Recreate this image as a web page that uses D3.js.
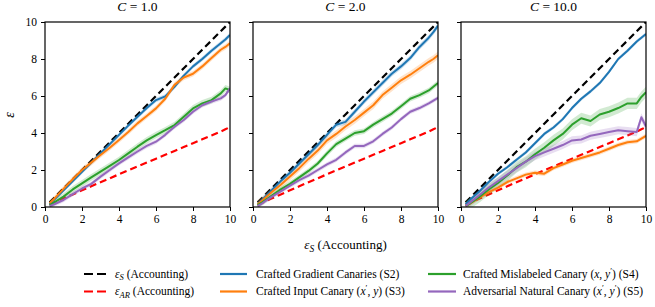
<!DOCTYPE html>
<html>
<head>
<meta charset="utf-8">
<script src="https://cdn.jsdelivr.net/npm/d3@7"></script>
<style>
  html, body { margin: 0; padding: 0; background: #fff; }
  svg text { font-family: "Liberation Serif", "Times New Roman", serif; fill: #000; }
</style>
</head>
<body>
<svg id="chart" width="655" height="307"></svg>
<script>
// ---------------- DATA ----------------
const panelTitles = ["1.0", "2.0", "10.0"];
const eps = [0.25, 0.5, 1, 1.5, 2, 2.5, 3, 3.5, 4, 4.5, 5, 5.5, 6, 6.5, 7, 7.5, 8, 8.5, 9, 9.5, 9.75, 10];
const epsS = [0.25, 0.5, 1, 1.5, 2, 2.5, 3, 3.5, 4, 4.5, 5, 5.5, 6, 6.5, 7, 7.5, 8, 8.5, 9, 9.5, 9.75, 10];
const epsAR = [0.12, 0.23, 0.46, 0.68, 0.9, 1.12, 1.34, 1.55, 1.77, 1.98, 2.19, 2.4, 2.61, 2.82, 3.03, 3.24, 3.45, 3.66, 3.87, 4.08, 4.2, 4.32];

// C = 1.0
const gradC1    = [0.15, 0.4, 0.9, 1.4, 1.9, 2.4, 2.9, 3.4, 3.9, 4.4, 4.88, 5.35, 5.78, 5.98, 6.5, 7.1, 7.6, 8.0, 8.45, 8.85, 9.05, 9.3];
const inputC1   = [0.2, 0.45, 0.98, 1.5, 2.0, 2.4, 2.81, 3.2, 3.62, 4.05, 4.52, 4.92, 5.33, 5.85, 6.6, 7.0, 7.2, 7.6, 8.05, 8.5, 8.65, 8.85];
const mislabC1  = [0.1, 0.25, 0.56, 0.95, 1.28, 1.6, 1.91, 2.22, 2.54, 2.9, 3.26, 3.6, 3.89, 4.15, 4.43, 4.88, 5.33, 5.6, 5.78, 6.14, 6.41, 6.32];
const naturalC1 = [0.05, 0.15, 0.38, 0.7, 1.0, 1.25, 1.64, 2.0, 2.36, 2.68, 3.0, 3.3, 3.53, 3.9, 4.34, 4.7, 5.15, 5.5, 5.7, 5.87, 6.05, 6.41];
// C = 2.0
const gradC2    = [0.15, 0.4, 0.9, 1.4, 1.85, 2.35, 2.85, 3.35, 3.9, 4.45, 4.6, 5.15, 5.7, 6.2, 6.7, 7.2, 7.6, 8.05, 8.65, 9.15, 9.45, 9.8];
const inputC2   = [0.15, 0.35, 0.8, 1.2, 1.65, 2.1, 2.6, 3.05, 3.6, 3.95, 4.35, 4.7, 5.1, 5.5, 6.05, 6.45, 6.85, 7.15, 7.5, 7.85, 8.0, 8.2];
const mislabC2  = [0.1, 0.25, 0.6, 0.95, 1.25, 1.6, 1.95, 2.35, 2.9, 3.4, 3.7, 4.0, 4.1, 4.45, 4.75, 5.05, 5.45, 5.85, 6.05, 6.3, 6.5, 6.7];
const naturalC2 = [0.05, 0.2, 0.55, 0.85, 1.15, 1.45, 1.7, 2.0, 2.3, 2.55, 2.95, 3.3, 3.3, 3.55, 3.95, 4.3, 4.75, 5.15, 5.35, 5.6, 5.75, 5.9];
// C = 10.0
const gradC3    = [0.15, 0.4, 0.85, 1.35, 1.8, 2.15, 2.55, 2.95, 3.45, 3.95, 4.3, 4.75, 5.35, 5.85, 6.25, 6.7, 7.3, 8.0, 8.45, 8.95, 9.15, 9.35];
const inputC3   = [0.05, 0.2, 0.5, 0.8, 1.05, 1.35, 1.55, 1.75, 1.85, 1.8, 2.1, 2.3, 2.5, 2.65, 2.8, 2.95, 3.15, 3.35, 3.5, 3.55, 3.7, 3.85];
const mislabC3  = [0.05, 0.2, 0.55, 0.95, 1.3, 1.7, 2.15, 2.45, 2.85, 3.2, 3.6, 3.95, 4.45, 4.8, 4.65, 5.0, 5.15, 5.35, 5.6, 5.6, 5.95, 6.2];
const naturalC3 = [0.05, 0.25, 0.65, 1.05, 1.4, 1.75, 2.1, 2.45, 2.75, 2.95, 3.15, 3.35, 3.6, 3.65, 3.85, 3.95, 4.05, 4.15, 4.1, 4.05, 4.85, 4.35];

// half-width of the shaded confidence band per series (grad, input, mislabeled, natural)
const bandC1 = [0.12, 0.15, 0.18, 0.12];
const bandC2 = [0.15, 0.2, 0.15, 0.12];
const bandC3 = [0.1, 0.12, 0.3, 0.22];

const xTicks = [0, 2, 4, 6, 8, 10];
const yTicks = [0, 2, 4, 6, 8, 10];

const panels = [
  { title: panelTitles[0], series: [gradC1, inputC1, mislabC1, naturalC1], band: bandC1 },
  { title: panelTitles[1], series: [gradC2, inputC2, mislabC2, naturalC2], band: bandC2 },
  { title: panelTitles[2], series: [gradC3, inputC3, mislabC3, naturalC3], band: bandC3 }
];
const seriesColors = ["#1f77b4", "#ff7f0e", "#2ca02c", "#9467bd"];

// ---------------- LAYOUT ----------------
const svg = d3.select("#chart");
const panelLeft = [45, 253, 461];
const pw = 185, topY = 22, botY = 207;
const tickFont = 11.5;

panels.forEach((p, i) => {
  const x0 = panelLeft[i];
  const x = d3.scaleLinear().domain([0, 10]).range([x0, x0 + pw]);
  const y = d3.scaleLinear().domain([0, 10]).range([botY, topY]);
  const g = svg.append("g");
  const clipId = "clip" + i;
  svg.append("clipPath").attr("id", clipId).append("rect")
    .attr("x", x0).attr("y", topY).attr("width", pw).attr("height", botY - topY);
  const plot = g.append("g").attr("clip-path", `url(#${clipId})`);

  const line = (arr) => d3.line().x((d, k) => x(eps[k])).y((d) => y(d))(arr);

  // reference dashed lines
  plot.append("path").attr("d", line(epsS)).attr("fill", "none")
    .attr("stroke", "#000").attr("stroke-width", 2.2).attr("stroke-dasharray", "7,4");
  plot.append("path").attr("d", line(epsAR)).attr("fill", "none")
    .attr("stroke", "#ff0000").attr("stroke-width", 2.2).attr("stroke-dasharray", "7,4");

  // bands then lines
  p.series.forEach((s, j) => {
    const area = d3.area()
      .x((d, k) => x(eps[k]))
      .y0((d) => y(d - p.band[j]))
      .y1((d) => y(d + p.band[j]));
    plot.append("path").attr("d", area(s)).attr("fill", seriesColors[j]).attr("opacity", 0.22);
  });
  p.series.forEach((s, j) => {
    plot.append("path").attr("d", line(s)).attr("fill", "none")
      .attr("stroke", seriesColors[j]).attr("stroke-width", 2)
      .attr("stroke-linejoin", "round").attr("stroke-linecap", "butt");
  });

  // axes
  const xAxis = d3.axisBottom(x).tickValues(xTicks).tickSize(4).tickPadding(4).tickFormat(d3.format("d"));
  const gx = g.append("g").attr("transform", `translate(0,${botY})`).call(xAxis);
  const yAxis = d3.axisLeft(y).tickValues(yTicks).tickSize(4).tickPadding(4)
    .tickFormat(i === 0 ? d3.format("d") : () => "");
  const gy = g.append("g").attr("transform", `translate(${x0},0)`).call(yAxis);
  [gx, gy].forEach(a => {
    a.attr("font-family", null);
    a.select(".domain").remove();
    a.selectAll(".tick line").attr("stroke", "#000").attr("stroke-width", 1);
    a.selectAll(".tick text").attr("font-size", tickFont).attr("fill", "#000");
  });

  // frame
  g.append("rect").attr("x", x0).attr("y", topY).attr("width", pw).attr("height", botY - topY)
    .attr("fill", "none").attr("stroke", "#000").attr("stroke-width", 1.2);

  // title
  const t = g.append("text").attr("x", x0 + pw / 2).attr("y", 11).attr("text-anchor", "middle")
    .attr("font-size", 13.5);
  t.append("tspan").attr("font-style", "italic").text("C");
  t.append("tspan").text(" = " + p.title);
});

// y label
svg.append("text").attr("transform", "translate(14,115) rotate(-90)")
  .attr("text-anchor", "middle").attr("font-size", 14).attr("font-style", "italic").text("ε");

// x label
const xl = svg.append("text").attr("x", 345.5).attr("y", 249).attr("text-anchor", "middle").attr("font-size", 13);
xl.append("tspan").attr("font-style", "italic").text("ε");
xl.append("tspan").attr("font-style", "italic").attr("font-size", 9.5).attr("dy", 2.5).text("S");
xl.append("tspan").attr("dy", -2.5).text(" (Accounting)");

// ---------------- LEGEND ----------------
const legendItems = [
  { col: 0, row: 0, color: "#000", dash: "9,4", parts: [["ε", "it"], ["S", "sub"], [" (Accounting)", ""]] },
  { col: 0, row: 1, color: "#ff0000", dash: "9,4", parts: [["ε", "it"], ["AR", "sub"], [" (Accounting)", ""]] },
  { col: 1, row: 0, color: seriesColors[0], dash: null, parts: [["Crafted Gradient Canaries (S2)", ""]] },
  { col: 1, row: 1, color: seriesColors[1], dash: null, parts: [["Crafted Input Canary (", ""], ["x", "it"], ["′", "sup"], [", ", ""], ["y", "it"], [") (S3)", ""]] },
  { col: 2, row: 0, color: seriesColors[2], dash: null, parts: [["Crafted Mislabeled Canary (", ""], ["x", "it"], [", ", ""], ["y", "it"], ["′", "sup"], [") (S4)", ""]] },
  { col: 2, row: 1, color: seriesColors[3], dash: null, parts: [["Adversarial Natural Canary (", ""], ["x", "it"], ["′", "sup"], [", ", ""], ["y", "it"], ["′", "sup"], [") (S5)", ""]] }
];
const handleX = [[84, 107], [220, 247], [428, 456]];
const textX = [115, 256, 463];
const rowY = [274, 291.5];
legendItems.forEach(it => {
  const ly = rowY[it.row];
  const ln = svg.append("line").attr("x1", handleX[it.col][0]).attr("x2", handleX[it.col][1])
    .attr("y1", ly).attr("y2", ly).attr("stroke", it.color).attr("stroke-width", 2.2);
  if (it.dash) ln.attr("stroke-dasharray", it.dash);
  const t = svg.append("text").attr("x", textX[it.col]).attr("y", ly + 3.8).attr("font-size", 11.5);
  let shift = 0;
  it.parts.forEach(([s, kind]) => {
    const ts = t.append("tspan").text(s);
    let target = 0;
    if (kind === "it") ts.attr("font-style", "italic");
    if (kind === "sub") { ts.attr("font-style", "italic").attr("font-size", 8.5); target = 2.5; }
    if (kind === "sup") { ts.attr("font-size", 8.5); target = -4; }
    ts.attr("dy", target - shift);
    shift = target;
  });
});
</script>
</body>
</html>
